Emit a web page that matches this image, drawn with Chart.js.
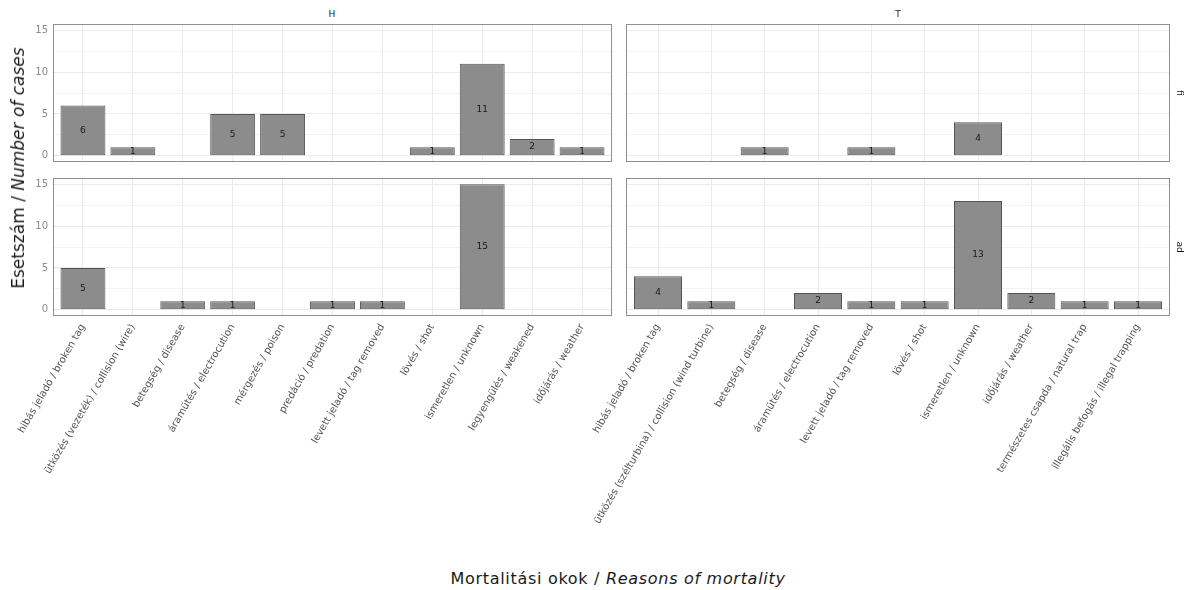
<!DOCTYPE html>
<html>
<head>
<meta charset="utf-8">
<script src="https://cdn.jsdelivr.net/npm/chart.js@4"></script>
<style>
  body { margin: 0; background: #fff; width: 1201px; height: 590px; position: relative; overflow: hidden;
         font-family: "DejaVu Sans", "Liberation Sans", Arial, sans-serif; }
  canvas { position: absolute; }
  .txt { position: absolute; white-space: nowrap; color: #1a1a1a; transform: translate(-50%, -50%); }
  .strip { font-size: 9px; color: #1a1a1a; }
  .vert { transform: translate(-50%, -50%) rotate(-90deg); }
  .down { transform: translate(-50%, -50%) rotate(90deg); }
</style>
</head>
<body>
<canvas id="tl"></canvas>
<canvas id="tr"></canvas>
<canvas id="bl"></canvas>
<canvas id="br"></canvas>

<div class="txt strip" style="left:332px;top:14px">H</div>
<div class="txt strip" style="left:898px;top:14px">T</div>
<div class="txt strip down" style="left:1180px;top:93px">fi</div>
<div class="txt strip down" style="left:1180px;top:247px">ad</div>
<div class="txt vert" style="left:18px;top:168px;font-size:17px">Esetszám / <i>Number of cases</i></div>
<div class="txt" style="left:618px;top:578px;font-size:16px;letter-spacing:0.7px">Mortalitási okok / <i>Reasons of mortality</i></div>

<script>
const FONT = '"DejaVu Sans", "Liberation Sans", Arial, sans-serif';

const causesH = [
  "hibás jeladó / broken tag",
  "ütközés (vezeték) / collision (wire)",
  "betegség / disease",
  "áramütés / electrocution",
  "mérgezés / poison",
  "predáció / predation",
  "levett jeladó / tag removed",
  "lövés / shot",
  "ismeretlen / unknown",
  "legyengülés / weakened",
  "időjárás / weather",
];
const causesT = [
  "hibás jeladó / broken tag",
  "ütközés (szélturbina) / collision (wind turbine)",
  "betegség / disease",
  "áramütés / electrocution",
  "levett jeladó / tag removed",
  "lövés / shot",
  "ismeretlen / unknown",
  "időjárás / weather",
  "természetes csapda / natural trap",
  "illegális befogás / illegal trapping",
];

const casesHfi = [6, 1, 0, 5, 5, 0, 0, 1, 11, 2, 1];
const casesHad = [5, 0, 1, 1, 0, 1, 1, 0, 15, 0, 0];
const casesTfi = [0, 0, 1, 0, 1, 0, 4, 0, 0, 0];
const casesTad = [4, 1, 0, 2, 1, 1, 13, 2, 1, 1];

const yTicks = [0, 5, 10, 15];
const yGrid = [0, 2.5, 5, 7.5, 10, 12.5, 15];

const panelBox = {
  id: "panelBox",
  afterDraw(chart) {
    const a = chart.chartArea;
    const ctx = chart.ctx;
    ctx.save();
    ctx.strokeStyle = "#8f8f8f";
    ctx.lineWidth = 1;
    ctx.strokeRect(a.left + 0.5, a.top + 0.5, a.width - 1, a.height - 1);
    ctx.restore();
  },
};

const barText = {
  id: "barText",
  afterDatasetsDraw(chart) {
    const ctx = chart.ctx;
    const meta = chart.getDatasetMeta(0);
    const data = chart.data.datasets[0].data;
    ctx.save();
    ctx.font = "9px " + FONT;
    ctx.fillStyle = "#1a1a1a";
    ctx.textAlign = "center";
    ctx.textBaseline = "middle";
    meta.data.forEach((el, i) => {
      const v = data[i].y;
      if (v > 0) ctx.fillText(String(v), el.x, (el.y + el.base) / 2);
    });
    ctx.restore();
  },
};

function makePanel(id, cfg) {
  const cv = document.getElementById(id);
  const W = cfg.axisW + cfg.panelW + 2;
  const H = 2 + cfg.panelH + cfg.axisH;
  cv.width = W;
  cv.height = H;
  cv.style.left = cfg.panelLeft - cfg.axisW + "px";
  cv.style.top = cfg.panelTop - 2 + "px";
  cv.style.width = W + "px";
  cv.style.height = H + "px";
  const n = cfg.labels.length;

  new Chart(cv, {
    type: "bar",
    data: {
      datasets: [
        {
          data: cfg.values.map((v, i) => ({ x: i, y: v })),
          backgroundColor: "#8c8c8c",
          borderColor: "#555555",
          borderWidth: (c) => (c.raw && c.raw.y > 0 ? 1 : 0),
          borderSkipped: false,
          categoryPercentage: 1,
          barPercentage: 0.9,
        },
      ],
    },
    options: {
      responsive: false,
      animation: false,
      layout: { padding: { top: 2, right: 2, left: 0, bottom: 0 } },
      plugins: { legend: { display: false }, tooltip: { enabled: false } },
      scales: {
        x: {
          type: "linear",
          offset: false,
          min: -0.6,
          max: n - 0.4,
          afterBuildTicks: (s) => {
            s.ticks = cfg.labels.map((_, i) => ({ value: i }));
          },
          afterFit: (s) => {
            s.height = cfg.axisH;
            s.paddingLeft = 0;
            s.paddingRight = 0;
          },
          grid: { color: "#ebebeb", drawTicks: false, offset: false },
          border: { display: false },
          ticks: {
            display: cfg.showX,
            autoSkip: false,
            minRotation: 60,
            maxRotation: 60,
            padding: 6,
            color: "#555555",
            font: { size: 10, family: FONT },
            callback: (v) => cfg.labels[v],
          },
        },
        y: {
          min: -0.75,
          max: 15.75,
          afterBuildTicks: (s) => {
            s.ticks = yGrid.map((v) => ({ value: v }));
          },
          afterFit: (s) => {
            s.width = cfg.axisW;
            s.paddingTop = 0;
            s.paddingBottom = 0;
          },
          grid: {
            color: "#ebebeb",
            lineWidth: (c) => (yTicks.includes(c.tick.value) ? 1 : 0.6),
            drawTicks: false,
          },
          border: { display: false },
          ticks: {
            display: cfg.showY,
            padding: 5,
            color: "#8a8a8a",
            font: { size: 10, family: FONT },
            callback: (v) => (yTicks.includes(v) ? String(v) : ""),
          },
        },
      },
    },
    plugins: [panelBox, barText],
  });
}

const leftBox = { panelLeft: 53, panelW: 559, axisW: 53, showY: true };
const rightBox = { panelLeft: 626, panelW: 544, axisW: 66, showY: false };
const topRow = { panelTop: 24, panelH: 138, axisH: 0, showX: false };
const bottomRow = { panelTop: 178, panelH: 138, axisH: 250, showX: true };

makePanel("tl", { ...leftBox, ...topRow, labels: causesH, values: casesHfi });
makePanel("bl", { ...leftBox, ...bottomRow, labels: causesH, values: casesHad });
makePanel("tr", { ...rightBox, ...topRow, labels: causesT, values: casesTfi });
makePanel("br", { ...rightBox, ...bottomRow, labels: causesT, values: casesTad });
</script>
</body>
</html>
